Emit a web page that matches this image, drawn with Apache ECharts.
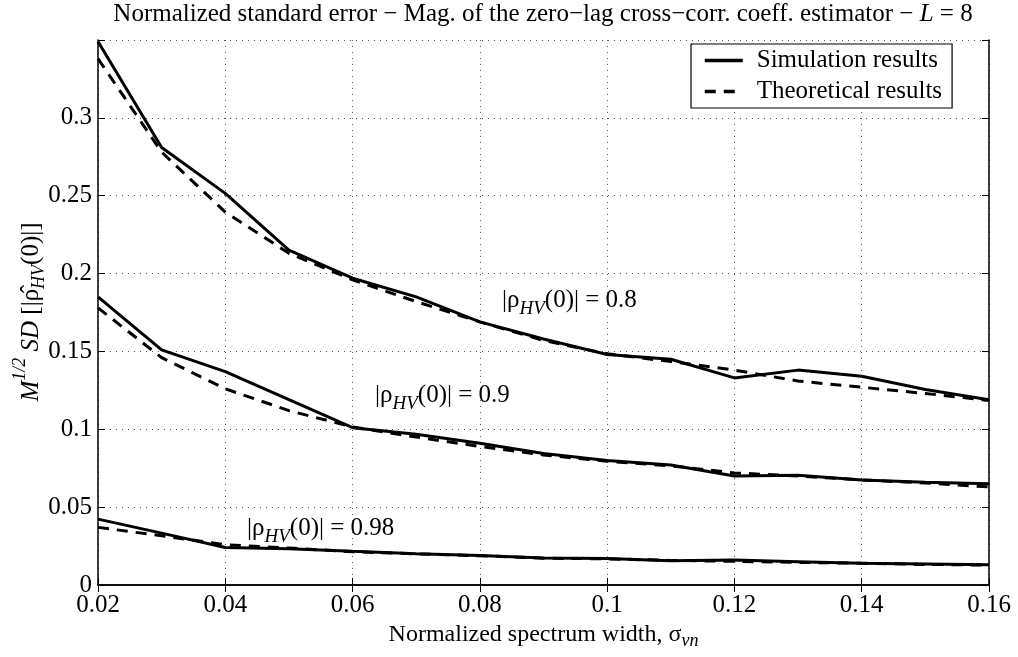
<!DOCTYPE html>
<html>
<head>
<meta charset="utf-8">
<script src="https://cdn.jsdelivr.net/npm/echarts@6/dist/echarts.min.js"></script>
<style>
  html, body { margin: 0; padding: 0; background: #fff; }
  #main { width: 1018px; height: 657px; }
</style>
</head>
<body>
<div id="main"></div>
<script>
// normalized spectrum width (x)
const xValues = [0.02, 0.03, 0.04, 0.05, 0.06, 0.07, 0.08, 0.09, 0.10, 0.11, 0.12, 0.13, 0.14, 0.15, 0.16];

// |rho_HV(0)| = 0.8
const sim080 = [0.349, 0.281, 0.2515, 0.215, 0.197, 0.185, 0.169, 0.158, 0.148, 0.145, 0.133, 0.138, 0.134, 0.1255, 0.119];
const theo080 = [0.338, 0.278, 0.2395, 0.213, 0.196, 0.182, 0.169, 0.157, 0.1485, 0.1435, 0.138, 0.131, 0.127, 0.123, 0.1185];

// |rho_HV(0)| = 0.9
const sim090 = [0.185, 0.151, 0.137, 0.119, 0.101, 0.0968, 0.091, 0.0845, 0.080, 0.077, 0.070, 0.0705, 0.0675, 0.066, 0.065];
const theo090 = [0.178, 0.146, 0.126, 0.112, 0.1015, 0.095, 0.089, 0.0835, 0.0795, 0.0765, 0.072, 0.070, 0.0675, 0.0655, 0.063];

// |rho_HV(0)| = 0.98
const sim098 = [0.0423, 0.0333, 0.0241, 0.0233, 0.0216, 0.0201, 0.019, 0.0173, 0.017, 0.0155, 0.016, 0.015, 0.014, 0.0135, 0.013];
const theo098 = [0.037, 0.0316, 0.0259, 0.0237, 0.0214, 0.020, 0.0188, 0.0172, 0.0168, 0.0158, 0.0152, 0.0145, 0.014, 0.0132, 0.0128];

const FONT = "'Liberation Serif', 'DejaVu Serif', serif";

const pairs = (ys) => xValues.map((x, i) => [x, ys[i]]);

const simStyle = { color: "#000", width: 3, type: "solid" };
const theoStyle = { color: "#000", width: 3, type: [11, 8] };

const lineSeries = (name, ys, style) => ({
  name: name,
  type: "line",
  data: pairs(ys),
  symbol: "none",
  animation: false,
  color: "#000",
  lineStyle: style,
  z: 3,
});

// rich text styles for labels with subscripts
const annoRich = {
  n: { fontFamily: FONT, fontSize: 25, color: "#000", verticalAlign: "top" },
  sub: { fontFamily: FONT, fontSize: 19, fontStyle: "italic", color: "#000", verticalAlign: "top", padding: [11, 0, 0, 0] },
};

const anno = (left, top, text) => ({
  type: "text",
  left: left,
  top: top,
  z: 10,
  style: { text: text, rich: annoRich, fontFamily: FONT, fontSize: 25, fill: "#000" },
});

const chart = echarts.init(document.getElementById("main"));

chart.setOption({
  backgroundColor: "#fff",
  animation: false,
  grid: { left: 98, right: 29, top: 40, bottom: 72 },
  legend: {
    data: ["Simulation results", "Theoretical results"],
    orient: "vertical",
    left: 691,
    top: 44,
    padding: [4, 10, 4, 12],
    itemGap: 6,
    itemWidth: 38,
    itemHeight: 14,
    backgroundColor: "#fff",
    borderColor: "#000",
    borderWidth: 1.2,
    borderRadius: 0,
    itemStyle: { opacity: 0 },
    lineStyle: { width: 3.5, color: "#000" },
    textStyle: { fontFamily: FONT, fontSize: 25, color: "#000", padding: [0, 0, 0, 9] },
  },
  xAxis: [
    {
      type: "value",
      min: 0.02,
      max: 0.16,
      interval: 0.02,
      position: "bottom",
      axisLine: { show: true, lineStyle: { color: "#000", width: 1.5 } },
      axisTick: { show: true, inside: true, length: 7, lineStyle: { color: "#000" } },
      axisLabel: { color: "#000", fontFamily: FONT, fontSize: 25, margin: 8 },
      splitLine: { show: true, lineStyle: { color: "#555", type: [1, 5], width: 1 } },
      name: "Normalized spectrum width, σ{sub|vn}",
      nameLocation: "middle",
      nameGap: 32,
      nameTextStyle: {
        fontFamily: FONT, fontSize: 24, color: "#000", verticalAlign: "top",
        rich: {
          sub: { fontFamily: FONT, fontSize: 18, fontStyle: "italic", color: "#000", verticalAlign: "top", padding: [13, 0, 0, 0] },
        },
      },
    },
    {
      type: "value",
      min: 0.02,
      max: 0.16,
      interval: 0.02,
      position: "top",
      axisLine: { show: true, lineStyle: { color: "#000", width: 1.5 } },
      axisTick: { show: true, inside: true, length: 7, lineStyle: { color: "#000" } },
      axisLabel: { show: false },
      splitLine: { show: false },
    },
  ],
  yAxis: [
    {
      type: "value",
      min: 0,
      max: 0.35,
      interval: 0.05,
      position: "left",
      axisLine: { show: true, lineStyle: { color: "#000", width: 1.5 } },
      axisTick: { show: true, inside: true, length: 7, lineStyle: { color: "#000" } },
      axisLabel: {
        color: "#000", fontFamily: FONT, fontSize: 25, margin: 6,
        formatter: (v) => (v > 0.34 ? "" : String(+v.toFixed(2))),
      },
      splitLine: { show: true, lineStyle: { color: "#555", type: [1, 5], width: 1 } },
    },
    {
      type: "value",
      min: 0,
      max: 0.35,
      interval: 0.05,
      position: "right",
      axisLine: { show: true, lineStyle: { color: "#000", width: 1.5 } },
      axisTick: { show: true, inside: true, length: 7, lineStyle: { color: "#000" } },
      axisLabel: { show: false },
      splitLine: { show: false },
    },
  ],
  series: [
    lineSeries("Simulation results", sim080, simStyle),
    lineSeries("Theoretical results", theo080, theoStyle),
    lineSeries("Simulation results", sim090, simStyle),
    lineSeries("Theoretical results", theo090, theoStyle),
    lineSeries("Simulation results", sim098, simStyle),
    lineSeries("Theoretical results", theo098, theoStyle),
  ],
  graphic: [
    {
      type: "text",
      x: 543,
      y: 2,
      style: {
        text: "{n|Normalized standard error − Mag. of the zero−lag cross−corr. coeff. estimator − }{i|L}{n| = 8}",
        align: "center",
        verticalAlign: "top",
        rich: {
          n: { fontFamily: FONT, fontSize: 25, color: "#000" },
          i: { fontFamily: FONT, fontSize: 25, fontStyle: "italic", color: "#000" },
        },
        fill: "#000",
      },
    },
    {
      type: "text",
      x: 30,
      y: 312,
      rotation: Math.PI / 2,
      style: {
        text: "{i|M}{sup|1/2}{i| SD}{n| [|ρ̂}{sub|HV}{n|(0)|]}",
        align: "center",
        verticalAlign: "middle",
        rich: {
          n: { fontFamily: FONT, fontSize: 25, color: "#000", verticalAlign: "top", padding: [7, 0, 0, 0] },
          i: { fontFamily: FONT, fontSize: 25, fontStyle: "italic", color: "#000", verticalAlign: "top", padding: [7, 0, 0, 0] },
          sup: { fontFamily: FONT, fontSize: 18, fontStyle: "italic", color: "#000", verticalAlign: "top", padding: [0, 0, 0, 0] },
          sub: { fontFamily: FONT, fontSize: 18, fontStyle: "italic", color: "#000", verticalAlign: "top", padding: [19, 0, 0, 0] },
        },
        fill: "#000",
      },
    },
    anno(502, 288, "{n||ρ}{sub|HV}{n|(0)| = 0.8}"),
    anno(375, 383, "{n||ρ}{sub|HV}{n|(0)| = 0.9}"),
    anno(247, 516, "{n||ρ}{sub|HV}{n|(0)| = 0.98}"),
  ],
});
</script>
</body>
</html>
